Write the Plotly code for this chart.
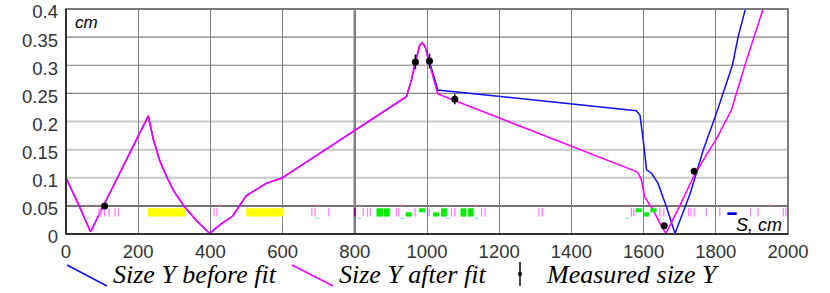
import plotly.graph_objects as go

# ---------------- data ----------------
s_after = [0, 20, 37, 68, 228, 242, 260, 280, 300, 328, 360, 398, 430, 462, 499, 555, 597,
           943, 957, 968, 980, 987, 995, 1005, 1018, 1030, 1580, 1585, 1594, 1603, 1612, 1631,
           1650, 1662, 1700, 1740, 1783, 1800, 1843, 1885, 1931]
y_after = [0.100, 0.073, 0.049, 0.004, 0.210, 0.168, 0.130, 0.100, 0.075, 0.049, 0.025, 0.001,
           0.018, 0.032, 0.068, 0.090, 0.099,
           0.244, 0.274, 0.306, 0.336, 0.340, 0.333, 0.306, 0.274, 0.249, 0.111, 0.108, 0.096,
           0.066, 0.057, 0.037, 0.013, 0.001, 0.050, 0.104, 0.150, 0.167, 0.220, 0.309, 0.400]

s_before = [0, 20, 37, 68, 228, 242, 260, 280, 300, 328, 360, 398, 430, 462, 499, 555, 597,
            943, 957, 968, 980, 987, 995, 1006, 1020, 1030, 1580, 1590, 1599, 1608, 1622, 1640,
            1663, 1687, 1729, 1765, 1802, 1825, 1846, 1862, 1882]
y_before = [0.100, 0.073, 0.049, 0.004, 0.210, 0.168, 0.130, 0.100, 0.075, 0.049, 0.025, 0.001,
            0.018, 0.032, 0.068, 0.090, 0.099,
            0.244, 0.274, 0.306, 0.336, 0.340, 0.333, 0.308, 0.278, 0.256, 0.219, 0.211, 0.167,
            0.114, 0.108, 0.090, 0.049, 0.001, 0.072, 0.149, 0.215, 0.259, 0.300, 0.351, 0.400]

s_meas = [107, 968, 1007, 1077, 1657, 1740]
y_meas = [0.0498, 0.306, 0.3075, 0.2395, 0.0148, 0.1114]
e_meas = [0.002, 0.013, 0.013, 0.009, 0.002, 0.002]

x_ticks = [0, 200, 400, 600, 800, 1000, 1200, 1400, 1600, 1800, 2000]
y_ticks = [0, 0.05, 0.1, 0.15, 0.2, 0.25, 0.3, 0.35, 0.4]
y_ticktext = ["0", "0.05", "0.1", "0.15", "0.2", "0.25", "0.3", "0.35", "0.4"]
grid_dark_y = [0.25, 0.3, 0.35]
grid_light_y = [0.1, 0.15, 0.2]

# lattice elements (strip below 0.05)
yellow_s0 = [227, 499]
yellow_s1 = [330, 601]
green_s0 = [860, 880, 941, 978, 1017, 1039, 1093, 1113, 1578, 1600, 1619]
green_s1 = [878, 897, 958, 995, 1033, 1055, 1109, 1129, 1595, 1615, 1636]
green_kind = ["full", "full", "low", "high", "low", "full", "full", "full", "high", "low", "high"]
blue_s0 = [1832]
blue_s1 = [1858]
pink_s = [91, 96, 107, 119, 136, 145, 410, 418, 681, 690, 728, 823, 835, 843, 915, 922, 967,
          1006, 1068, 1077, 1151, 1161, 1310, 1319, 1566, 1573, 1645, 1656, 1725, 1731, 1740,
          1774, 1811, 1896, 1917, 1987, 1994]
purple_s = [800]
red_s = [60, 85, 427, 696, 813, 931, 1058, 1137, 1555, 1639, 1948]
cyan_s = [60, 427, 696, 811, 931, 1058, 1137, 1555, 1948]

STRIP_LO, STRIP_HI, STRIP_MID = 0.031, 0.0457, 0.0386

fig = go.Figure()

fig.add_trace(go.Scatter(x=s_before, y=y_before, mode="lines",
                         line=dict(color="#1010ff", width=1.5), showlegend=False))
fig.add_trace(go.Scatter(x=s_after, y=y_after, mode="lines",
                         line=dict(color="#ff00ff", width=1.5), showlegend=False))

# pink element ticks
px, py = [], []
for s in pink_s:
    px += [s, s, None]
    py += [STRIP_LO, STRIP_HI, None]
fig.add_trace(go.Scatter(x=px, y=py, mode="lines", line=dict(color="#ff77ff", width=1.2),
                         showlegend=False, hoverinfo="skip"))
qx, qy = [], []
for s in purple_s:
    qx += [s, s, None]
    qy += [STRIP_LO, STRIP_HI, None]
fig.add_trace(go.Scatter(x=qx, y=qy, mode="lines", line=dict(color="#a000a0", width=2),
                         showlegend=False, hoverinfo="skip"))
fig.add_trace(go.Scatter(x=red_s, y=[0.0512] * len(red_s), mode="markers",
                         marker=dict(symbol="line-ew", size=3, line=dict(color="#e08080", width=1)),
                         showlegend=False, hoverinfo="skip"))
fig.add_trace(go.Scatter(x=cyan_s, y=[0.028] * len(cyan_s), mode="markers",
                         marker=dict(symbol="line-ew", size=3, line=dict(color="#80d8f0", width=1)),
                         showlegend=False, hoverinfo="skip"))

fig.add_trace(go.Scatter(x=s_meas, y=y_meas, mode="markers",
                         marker=dict(color="black", size=7),
                         error_y=dict(type="data", array=e_meas, color="black", thickness=1.5, width=0),
                         showlegend=False))

shapes = []
# horizontal gridlines
for y in grid_light_y:
    shapes.append(dict(type="line", xref="paper", x0=0, x1=1, yref="y", y0=y, y1=y,
                       line=dict(color="#c8c8c8", width=2), layer="below"))
for y in grid_dark_y:
    shapes.append(dict(type="line", xref="paper", x0=0, x1=1, yref="y", y0=y, y1=y,
                       line=dict(color="#808080", width=1.2), layer="below"))
shapes.append(dict(type="line", xref="paper", x0=0, x1=1, yref="y", y0=0.05, y1=0.05,
                   line=dict(color="#444444", width=1.5), layer="below"))
shapes.append(dict(type="line", xref="x", x0=800, x1=800, yref="paper", y0=0, y1=1,
                   line=dict(color="#808080", width=2.5), layer="below"))
# element rectangles
for a, b in zip(yellow_s0, yellow_s1):
    shapes.append(dict(type="rect", xref="x", yref="y", x0=a, x1=b, y0=STRIP_LO, y1=STRIP_HI,
                       fillcolor="#ffff00", line=dict(width=0)))
for a, b, k in zip(green_s0, green_s1, green_kind):
    lo, hi = {"full": (STRIP_LO, STRIP_HI), "low": (STRIP_LO, STRIP_MID),
              "high": (STRIP_MID, STRIP_HI)}[k]
    shapes.append(dict(type="rect", xref="x", yref="y", x0=a, x1=b, y0=lo, y1=hi,
                       fillcolor="#00ee00", line=dict(width=0)))
for a, b in zip(blue_s0, blue_s1):
    shapes.append(dict(type="rect", xref="x", yref="y", x0=a, x1=b, y0=0.0338, y1=STRIP_MID,
                       fillcolor="#0000ee", line=dict(width=0)))
# frame
shapes.append(dict(type="rect", xref="paper", yref="paper", x0=0, x1=1, y0=0, y1=1,
                   line=dict(color="#7a7a7a", width=2)))
shapes.append(dict(type="line", xref="paper", yref="paper", x0=0, x1=0, y0=0, y1=1,
                   line=dict(color="#333333", width=2)))
shapes.append(dict(type="line", xref="paper", yref="paper", x0=0, x1=1, y0=0, y1=0,
                   line=dict(color="#333333", width=2)))

# manual legend (pixel -> paper)
L, T, W, H = 66, 9, 722, 225
def pxx(p):
    return (p - L) / W
def pyy(p):
    return (T + H - p) / H

shapes.append(dict(type="line", xref="paper", yref="paper", x0=pxx(67), y0=pyy(265),
                   x1=pxx(107), y1=pyy(286), line=dict(color="#1010ff", width=1.5)))
shapes.append(dict(type="line", xref="paper", yref="paper", x0=pxx(292), y0=pyy(265),
                   x1=pxx(333), y1=pyy(286), line=dict(color="#ff00ff", width=1.5)))
shapes.append(dict(type="line", xref="paper", yref="paper", x0=pxx(520), y0=pyy(262),
                   x1=pxx(520), y1=pyy(286), line=dict(color="black", width=1.5)))
shapes.append(dict(type="circle", xref="paper", yref="paper", x0=pxx(518), y0=pyy(272),
                   x1=pxx(522), y1=pyy(276), fillcolor="black", line=dict(width=0)))

annotations = []
legend_font = dict(family="Liberation Serif", size=26, color="black")
for txt, xp in [("<i>Size Y before fit</i>", 111), ("<i>Size Y after fit</i>", 337),
                ("<i>Measured size Y</i>", 544)]:
    annotations.append(dict(text=txt, xref="paper", yref="paper", x=pxx(xp), y=pyy(274),
                            xanchor="left", yanchor="middle", showarrow=False, font=legend_font))
annotations.append(dict(text="<i>cm</i>", xref="paper", yref="paper", x=pxx(73), y=pyy(22),
                        xanchor="left", yanchor="middle", showarrow=False,
                        font=dict(family="Liberation Sans", size=17, color="black")))
annotations.append(dict(text="<i>S, cm</i>", xref="paper", yref="paper", x=pxx(784), y=pyy(225),
                        xanchor="right", yanchor="middle", showarrow=False,
                        font=dict(family="Liberation Sans", size=18, color="black")))

fig.update_layout(
    width=830, height=293,
    margin=dict(l=L, r=830 - L - W, t=T, b=293 - T - H, autoexpand=False),
    paper_bgcolor="white", plot_bgcolor="white",
    shapes=shapes, annotations=annotations,
    showlegend=False,
    xaxis=dict(range=[0, 2000], tickvals=x_ticks, showgrid=True, gridcolor="#808080",
               gridwidth=1, zeroline=False, showline=False, ticks="", automargin=False,
               tickfont=dict(family="Liberation Sans", size=18.5, color="#333333"),
               ticklabelstandoff=4, ticklabeloverflow="allow"),
    yaxis=dict(range=[0, 0.4], tickvals=y_ticks, ticktext=y_ticktext, showgrid=False,
               zeroline=False, showline=False, ticks="", automargin=False,
               tickfont=dict(family="Liberation Sans", size=18.5, color="#333333"),
               ticklabelstandoff=7, ticklabeloverflow="allow", ticklabelshift=3),
)

fig.write_html("out.html", config={"displayModeBar": False},
               post_script="document.body.style.margin='0';document.body.style.overflow='hidden';")
